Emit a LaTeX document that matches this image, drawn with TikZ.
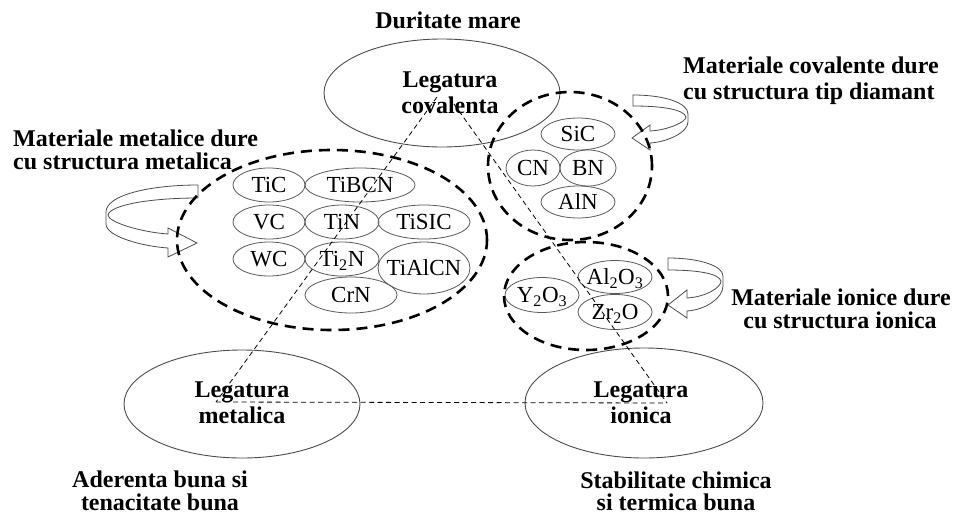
\documentclass[tikz,border=0pt]{standalone}
\usepackage{fontspec}
\setmainfont{Liberation Serif}
\usetikzlibrary{shapes.geometric}
\begin{document}
\begin{tikzpicture}[x=1pt,y=-1pt,
  bond/.style={draw=black!70, line width=0.9pt, ellipse, inner sep=0pt},
  grp/.style={draw=black, line width=2.6pt, dash pattern=on 11pt off 7pt, ellipse, inner sep=0pt},
  sell/.style={draw=black!65, line width=0.8pt, ellipse, inner sep=0pt},
  lbl/.style={inner sep=0pt, text height=15.5pt, text depth=0pt, font=\fontsize{23}{26}\selectfont},
  bt/.style={inner sep=0pt, anchor=base, font=\fontsize{24}{28}\selectfont\bfseries},
  btw/.style={bt, anchor=base west},
  link/.style={draw=black, line width=0.8pt, dash pattern=on 5pt off 3.5pt},
  carrow/.style={draw=black!70, line width=0.8pt, fill=white}
]
\useasboundingbox (0,0) rectangle (955,517);

% bonding ellipses
\node[bond, minimum width=236, minimum height=108] (cov) at (442,93) {};
\node[bond, minimum width=236, minimum height=108] (met) at (242,404) {};
\node[bond, minimum width=238, minimum height=110] (ion) at (644,403) {};

% small ellipses - metallic
\node[sell, minimum width=72, minimum height=34, label={[lbl]center:TiC}] (tic) at (269,185) {};
\node[sell, minimum width=110, minimum height=34, label={[lbl]center:TiBCN}] (tibcn) at (360,185) {};
\node[sell, minimum width=72, minimum height=34, label={[lbl]center:VC}] (vc) at (269,222) {};
\node[sell, minimum width=74, minimum height=34, label={[lbl]center:TiN}] (tin) at (342,222) {};
\node[sell, minimum width=92, minimum height=34, label={[lbl]center:TiSIC}] (tisic) at (424,222) {};
\node[sell, minimum width=72, minimum height=34, label={[lbl]center:WC}] (wc) at (269,259) {};
\node[sell, minimum width=74, minimum height=34, label={[lbl]center:Ti\textsubscript{2}N}] (ti2n) at (342,259) {};
\node[sell, minimum width=92, minimum height=52, label={[lbl]center:TiAlCN}] (tialcn) at (424,268) {};
\node[sell, minimum width=92, minimum height=36, label={[lbl]center:CrN}] (crn) at (351,295) {};
% covalent
\node[sell, minimum width=74, minimum height=32, label={[lbl]center:SiC}] (sic) at (578,134) {};
\node[sell, minimum width=54, minimum height=36, label={[lbl]center:CN}] (cn) at (533,168) {};
\node[sell, minimum width=56, minimum height=36, label={[lbl]center:BN}] (bn) at (588,168) {};
\node[sell, minimum width=74, minimum height=32, label={[lbl]center:AlN}] (aln) at (578,202) {};
% ionic
\node[sell, minimum width=74, minimum height=35, label={[lbl]center:Y\textsubscript{2}O\textsubscript{3}}] (y2o3) at (542,295) {};
\node[sell, minimum width=74, minimum height=33, label={[lbl]center:Al\textsubscript{2}O\textsubscript{3}}] (al2o3) at (615,277) {};
\node[sell, minimum width=74, minimum height=35, label={[lbl]center:Zr\textsubscript{2}O}] (zr2o) at (615,312) {};

% curved arrows
\draw[carrow] (198,185) .. controls (150,185) and (106,195) .. (106,212) -- (106,224)
  .. controls (106,236) and (140,246) .. (168,248) -- (168,257) -- (197,243) -- (168,228) -- (168,234)
  .. controls (140,232) and (108,222) .. (108,215) .. controls (110,205) and (150,198) .. (198,198) -- cycle;
\draw[carrow] (633,95) .. controls (665,95) and (688,103) .. (688,114) -- (688,122)
  .. controls (688,132) and (668,142) .. (650,143) -- (650,150) -- (632,138) -- (650,125) -- (650,131)
  .. controls (668,130) and (686,122) .. (686,117) .. controls (684,110) and (665,106) .. (633,106) -- cycle;
\draw[carrow] (668,258) .. controls (700,258) and (723,266) .. (723,276) -- (723,286)
  .. controls (723,298) and (705,310) .. (687,311) -- (687,318) -- (668,305) -- (687,290) -- (687,298)
  .. controls (705,297) and (721,288) .. (721,281) .. controls (719,274) and (700,270) .. (668,270) -- cycle;

% dashed group ellipses
\node[grp, minimum width=310, minimum height=180] (gmet) at (332,240) {};
\node[grp, minimum width=164, minimum height=148] (gcov) at (570,166) {};
\node[grp, minimum width=164, minimum height=108] (gion) at (586,296) {};

% triangle links
\coordinate (covL) at (437,97);
\coordinate (covR) at (449,97);
\coordinate (metC) at (216,402);
\coordinate (ionC) at (667,403);
\draw[link] (covL) -- (metC);
\draw[link] (covR) -- (ionC);
\draw[link] (metC) -- (ionC);

% texts
\node[bt] (dur) at (448,28) {Duritate mare};
\node[bt] (lc1) at (450,87) {Legatura};
\node[bt] (lc2) at (450,113) {covalenta};
\node[bt] (lm1) at (242,397) {Legatura};
\node[bt] (lm2) at (242,423) {metalica};
\node[bt] (li1) at (641,397) {Legatura};
\node[bt] (li2) at (641,423) {ionica};
\node[btw] (mm1) at (13,146) {Materiale metalice dure};
\node[btw] (mm2) at (13,169) {cu structura metalica};
\node[btw] (mc1) at (683,73) {Materiale covalente dure};
\node[btw] (mc2) at (683,99) {cu structura tip diamant};
\node[bt] (mi1) at (841,305) {Materiale ionice dure};
\node[bt] (mi2) at (840,328) {cu structura ionica};
\node[bt] (ad1) at (160,487) {Aderenta buna si};
\node[bt] (ad2) at (160,510) {tenacitate buna};
\node[bt] (st1) at (676,488) {Stabilitate chimica};
\node[bt] (st2) at (676,510) {si termica buna};
\end{tikzpicture}
\end{document}
